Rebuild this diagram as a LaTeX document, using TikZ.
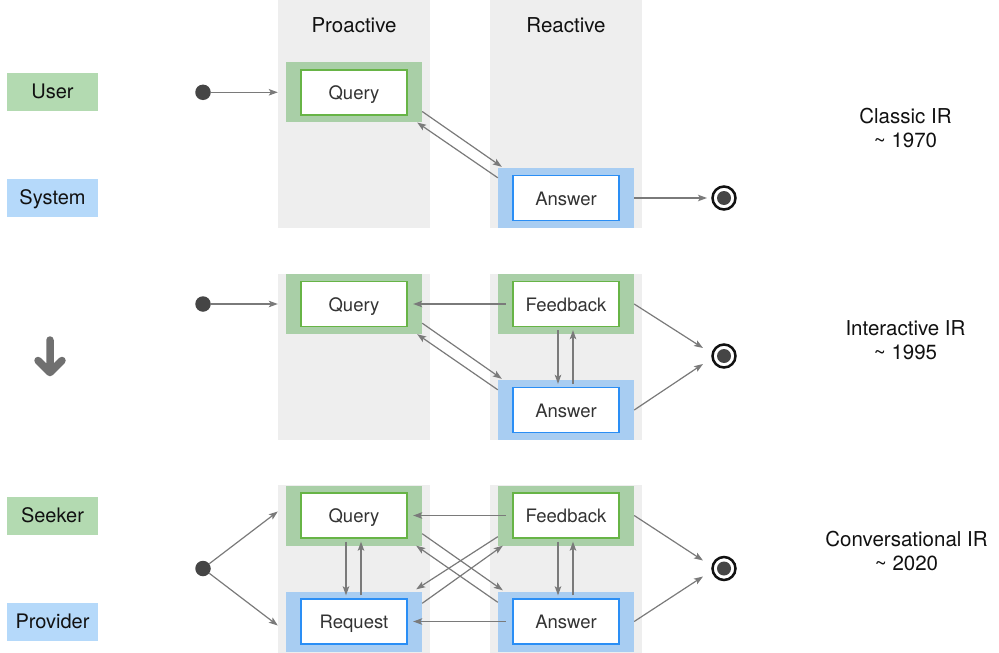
\documentclass[tikz,border=0pt]{standalone}
\usepackage{fontspec}
\setmainfont{TeX Gyre Heros}
\usetikzlibrary{calc,arrows.meta}
\definecolor{colgray}{HTML}{EEEEEE}
\definecolor{gouter}{HTML}{A9CFA7}
\definecolor{ginner}{HTML}{67B446}
\definecolor{bouter}{HTML}{A8CDF2}
\definecolor{binner}{HTML}{2A8EF5}
\definecolor{glabel}{HTML}{B3DAB1}
\definecolor{blabel}{HTML}{B5D9FA}
\definecolor{arrgray}{HTML}{7A7A7A}
\definecolor{dotgray}{HTML}{454545}
\definecolor{boxtext}{HTML}{333333}
\definecolor{labtext}{HTML}{111111}
\definecolor{bigarrow}{HTML}{707070}
\begin{document}
\begin{tikzpicture}[x=1pt,y=-1pt,
  gbox/.style={fill=gouter,minimum width=136pt,minimum height=60pt,inner sep=0pt},
  bbox/.style={fill=bouter,minimum width=136pt,minimum height=60pt,inner sep=0pt},
  inbox/.style={fill=white,line width=1.5pt,minimum width=106pt,minimum height=45pt,inner sep=0pt,
    text height=14pt,text depth=0pt,text=boxtext,font=\fontsize{18.5pt}{22pt}\selectfont},
  ginbox/.style={inbox,draw=ginner},
  binbox/.style={inbox,draw=binner},
  rowlabel/.style={minimum width=91pt,minimum height=38pt,inner sep=0pt,text height=14pt,text depth=0pt,
    text=labtext,font=\fontsize{20pt}{24pt}\selectfont},
  headtext/.style={anchor=base,text=labtext,font=\fontsize{20.5pt}{24pt}\selectfont},
  eratext/.style={anchor=base,text=labtext,font=\fontsize{20.5pt}{24pt}\selectfont},
  startdot/.style={circle,fill=dotgray,minimum size=15.5pt,inner sep=0pt},
  enddot/.style={circle,draw=labtext,line width=2.5pt,minimum size=23pt,inner sep=0pt},
  arr/.style={draw=arrgray,line width=1.2pt,-{Stealth[length=9pt,width=6.5pt,inset=2pt]}}
]
\useasboundingbox (0,0) rectangle (999,653);

% columns
\fill[colgray] (278,0) rectangle (430,228);
\fill[colgray] (490,0) rectangle (642,228);
\fill[colgray] (278,274) rectangle (430,440);
\fill[colgray] (490,274) rectangle (642,440);
\fill[colgray] (278,485) rectangle (430,653);
\fill[colgray] (490,485) rectangle (642,653);

% headers
\node[headtext] (hpro) at (354,32.3) {Proactive};
\node[headtext] (hrea) at (566,32.3) {Reactive};

% row labels
\node[rowlabel,fill=glabel] (luser) at (52.5,91.7) {User};
\node[rowlabel,fill=blabel] (lsys) at (52.5,197.8) {System};
\node[rowlabel,fill=glabel] (lseek) at (52.5,515.5) {Seeker};
\node[rowlabel,fill=blabel] (lprov) at (52.5,621.7) {Provider};

% down arrow
\draw[bigarrow,line width=7.5pt,line cap=round,line join=round]
  (50,340) -- (50,371) (38,360.5) -- (50,372.5) -- (62,360.5);

% era texts
\node[eratext] (c1a) at (905.5,123) {Classic IR};
\node[eratext] (c1b) at (905.5,147.5) {\textasciitilde{} 1970};
\node[eratext] (c2a) at (905.5,335) {Interactive IR};
\node[eratext] (c2b) at (905.5,359.5) {\textasciitilde{} 1995};
\node[eratext] (c3a) at (906.5,546) {Conversational IR};
\node[eratext] (c3b) at (906.5,570.5) {\textasciitilde{} 2020};

% ===== Classic IR =====
\node[gbox] (q1) at (354,92.3) {};
\node[ginbox] (q1i) at (q1) {Query};
\node[bbox] (a1) at (566,198) {};
\node[binbox] (a1i) at (a1) {Answer};
\node[startdot] (s1) at (203,92.3) {};
\node[enddot] (e1) at (724,198) {};
\fill[dotgray] (e1.center) circle (7);

\draw[arr] (s1) -- ($(q1.west)+(-8,0)$);
\draw[arr] ($(q1.south east)+(0,-11)$) -- ($(a1.north west)+(4,-1)$);
\draw[arr] ($(a1.north west)+(0,10)$) -- ($(q1.south east)+(-5,0)$);
\draw[arr] (a1.east) -- ($(e1.center)+(-17,0)$);

% ===== Interactive IR =====
\node[gbox] (q2) at (354,304) {};
\node[ginbox] (q2i) at (q2) {Query};
\node[gbox] (f2) at (566,304) {};
\node[ginbox] (f2i) at (f2) {Feedback};
\node[bbox] (a2) at (566,410) {};
\node[binbox] (a2i) at (a2) {Answer};
\node[startdot] (s2) at (203,304) {};
\node[enddot] (e2) at (724,356) {};
\fill[dotgray] (e2.center) circle (7);

\draw[arr] (s2) -- ($(q2.west)+(-8,0)$);
\draw[arr] ($(f2.west)+(8,0)$) -- ($(q2.east)+(-9,0)$);
\draw[arr] ($(q2.south east)+(0,-11)$) -- ($(a2.north west)+(4,-1)$);
\draw[arr] ($(a2.north west)+(0,10)$) -- ($(q2.south east)+(-5,0)$);
\draw[arr] ($(f2.south)+(-8,-4)$) -- ($(a2.north)+(-8,4)$);
\draw[arr] ($(a2.north)+(7,4)$) -- ($(f2.south)+(7,-4)$);
\draw[arr] (f2.east) -- ($(e2.center)+(-21,-8)$);
\draw[arr] (a2.east) -- ($(e2.center)+(-21,8)$);

% ===== Conversational IR =====
\node[gbox] (q3) at (354,515.5) {};
\node[ginbox] (q3i) at (q3) {Query};
\node[gbox] (f3) at (566,515.5) {};
\node[ginbox] (f3i) at (f3) {Feedback};
\node[bbox] (r3) at (354,621.5) {};
\node[binbox] (r3i) at (r3) {Request};
\node[bbox] (a3) at (566,621.5) {};
\node[binbox] (a3i) at (a3) {Answer};
\node[startdot] (s3) at (203,568.5) {};
\node[enddot] (e3) at (724,568.5) {};
\fill[dotgray] (e3.center) circle (7);

\draw[arr] (s3) -- ($(q3.west)+(-8,-4)$);
\draw[arr] (s3) -- ($(r3.west)+(-8,4)$);
\draw[arr] ($(q3.south)+(-8,-4)$) -- ($(r3.north)+(-8,4)$);
\draw[arr] ($(r3.north)+(7,4)$) -- ($(q3.south)+(7,-4)$);
\draw[arr] ($(f3.west)+(8,0)$) -- ($(q3.east)+(-9,0)$);
\draw[arr] ($(a3.west)+(8,0)$) -- ($(r3.east)+(-9,0)$);
\draw[arr] ($(q3.south east)+(0,-12)$) -- ($(a3.north west)+(5,-1)$);
\draw[arr] ($(a3.north west)+(0,11)$) -- ($(q3.south east)+(-6,0)$);
\draw[arr] ($(f3.south west)+(0,-9)$) -- ($(r3.north east)+(-6,-2)$);
\draw[arr] ($(r3.north east)+(0,12)$) -- ($(f3.south west)+(5,0)$);
\draw[arr] ($(f3.south)+(-8,-4)$) -- ($(a3.north)+(-8,4)$);
\draw[arr] ($(a3.north)+(7,4)$) -- ($(f3.south)+(7,-4)$);
\draw[arr] (f3.east) -- ($(e3.center)+(-21,-8)$);
\draw[arr] (a3.east) -- ($(e3.center)+(-21,8)$);
\end{tikzpicture}
\end{document}
